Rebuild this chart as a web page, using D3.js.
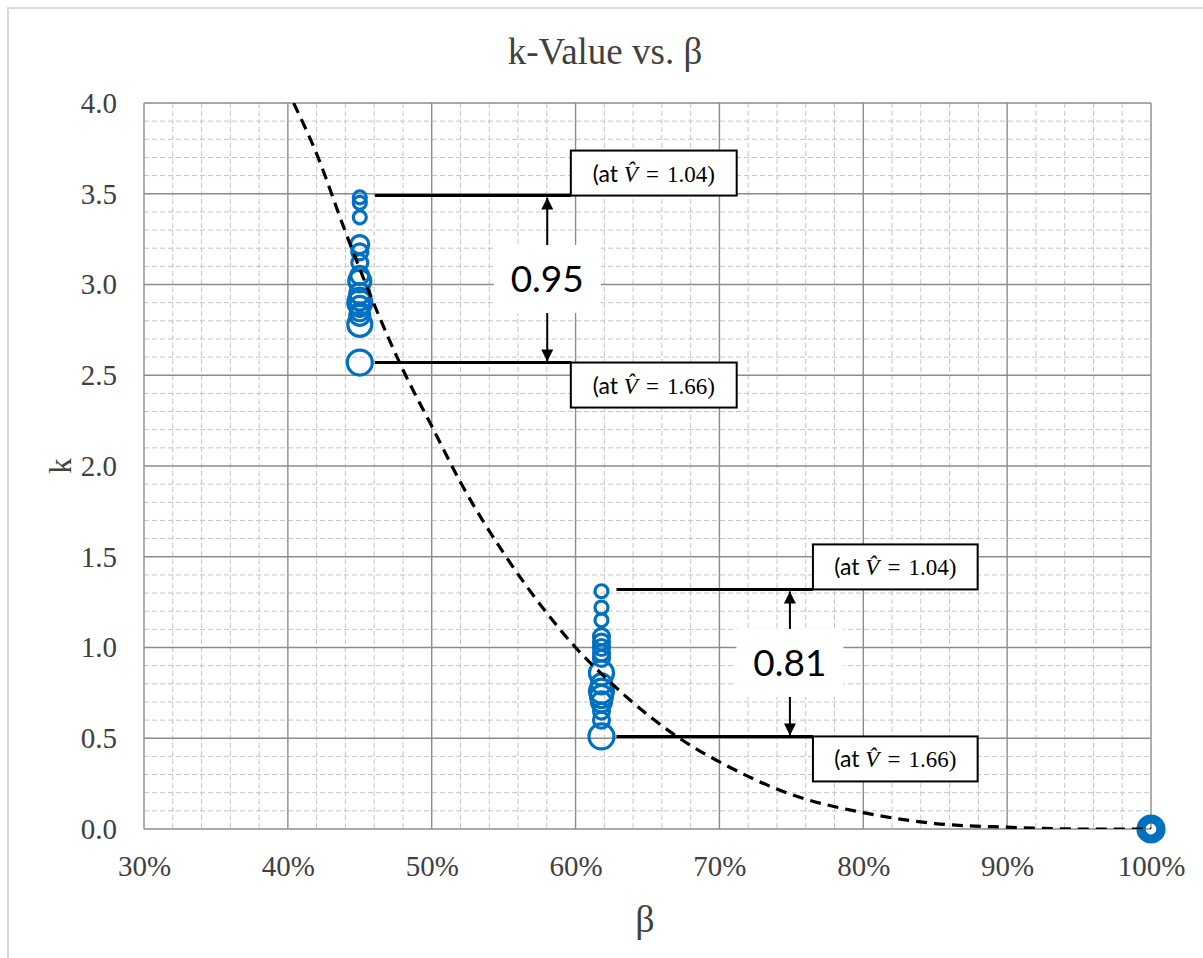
<!DOCTYPE html>
<html>
<head>
<meta charset="utf-8">
<script src="https://cdn.jsdelivr.net/npm/d3@7"></script>
<style>
  body { margin: 0; background: #fff; }
  svg { display: block; }
</style>
</head>
<body>
<div id="chart"></div>
<script>
// fitted curve (dashed)
var curveBeta = [40.4, 42, 44, 46, 48, 50, 52, 55, 58, 60, 62, 65, 68, 70, 75, 80, 85, 90, 95, 100];
var curveK = [4.0, 3.72, 3.29, 2.89, 2.53, 2.22, 1.91, 1.52, 1.19, 1.00, 0.84, 0.63, 0.46, 0.37, 0.19, 0.09, 0.03, 0.01, 0.0, 0.0];

// measured points, three beta groups
var groupBeta = [45, 61.8, 100];
var groupK = [
  [3.48, 3.45, 3.37, 3.22, 3.18, 3.12, 3.05, 3.02, 2.95, 2.92, 2.90, 2.88, 2.85, 2.83, 2.78, 2.57],
  [1.31, 1.22, 1.15, 1.06, 1.03, 1.00, 0.97, 0.94, 0.86, 0.80, 0.76, 0.73, 0.70, 0.65, 0.60, 0.51],
  [0, 0, 0, 0]
];
var groupSize = [
  [6.5, 6.5, 6.5, 9, 8, 8, 9, 11, 10, 11, 12, 10, 9, 10, 12, 12.5],
  [6.5, 6.5, 6.5, 8, 8, 8, 8, 8, 12, 10, 12, 11, 10, 8, 8, 12.5],
  [13, 11, 9, 7]
];

// spread annotations
var spreadLabels = ["0.95", "0.81"];
var spreadTop = [3.49, 1.32];
var spreadBottom = [2.57, 0.51];
var noteTop = "1.04", noteBottom = "1.66";

var xTicks = [30, 40, 50, 60, 70, 80, 90, 100];
var yTicks = [0, 0.5, 1.0, 1.5, 2.0, 2.5, 3.0, 3.5, 4.0];

var W = 1203, H = 958;
var pLeft = 144, pTop = 103, pRight = 1151, pBottom = 829;
var serif = "'Liberation Serif', 'Times New Roman', serif";
var sans = "Lato, 'Open Sans', sans-serif";
var blue = "#0070C0";

var x = d3.scaleLinear().domain([30, 100]).range([pLeft, pRight]);
var y = d3.scaleLinear().domain([0, 4]).range([pBottom, pTop]);

var svg = d3.select("#chart").append("svg")
  .attr("width", W)
  .attr("height", H);

svg.append("rect")
  .attr("x", 8).attr("y", 8)
  .attr("width", W).attr("height", H)
  .attr("fill", "#fff")
  .attr("stroke", "#d9d9d9")
  .attr("stroke-width", 2);

// minor grid
var minorX = d3.range(30, 100.01, 2).filter(function(v) { return v % 10 !== 0; });
var minorY = d3.range(0, 40.01, 1).filter(function(v) { return v % 5 !== 0; }).map(function(v) { return v / 10; });

var grid = svg.append("g");
grid.selectAll(".mx").data(minorX).enter().append("line")
  .attr("x1", function(d) { return x(d); }).attr("x2", function(d) { return x(d); })
  .attr("y1", pTop).attr("y2", pBottom)
  .attr("stroke", "#c4c4c4").attr("stroke-dasharray", "5,3");
grid.selectAll(".my").data(minorY).enter().append("line")
  .attr("y1", function(d) { return y(d); }).attr("y2", function(d) { return y(d); })
  .attr("x1", pLeft).attr("x2", pRight)
  .attr("stroke", "#c4c4c4").attr("stroke-dasharray", "5,3");

// major grid
grid.selectAll(".Mx").data(xTicks).enter().append("line")
  .attr("x1", function(d) { return x(d); }).attr("x2", function(d) { return x(d); })
  .attr("y1", pTop).attr("y2", pBottom)
  .attr("stroke", "#8c8c8c").attr("stroke-width", 1.4);
grid.selectAll(".My").data(yTicks).enter().append("line")
  .attr("y1", function(d) { return y(d); }).attr("y2", function(d) { return y(d); })
  .attr("x1", pLeft).attr("x2", pRight)
  .attr("stroke", "#8c8c8c").attr("stroke-width", 1.4);

// axes (labels only)
var yAxis = svg.append("g")
  .attr("transform", "translate(" + pLeft + ",0)")
  .call(d3.axisLeft(y).tickValues(yTicks).tickSize(0).tickPadding(27).tickFormat(d3.format(".1f")));
var xAxis = svg.append("g")
  .attr("transform", "translate(0," + pBottom + ")")
  .call(d3.axisBottom(x).tickValues(xTicks).tickSize(0).tickPadding(26).tickFormat(function(d) { return d + "%"; }));
[xAxis, yAxis].forEach(function(a) {
  a.select(".domain").remove();
  a.selectAll("text").attr("font-family", serif).attr("font-size", 29).attr("fill", "#404040");
});

// titles
svg.append("text")
  .attr("x", 605).attr("y", 64)
  .attr("text-anchor", "middle")
  .attr("font-family", serif).attr("font-size", 37).attr("fill", "#404040")
  .text("k-Value vs. β");
svg.append("text")
  .attr("x", 645).attr("y", 932)
  .attr("text-anchor", "middle")
  .attr("font-family", serif).attr("font-size", 38).attr("fill", "#404040")
  .text("β");
svg.append("text")
  .attr("transform", "translate(71,466) rotate(-90)")
  .attr("text-anchor", "middle")
  .attr("font-family", serif).attr("font-size", 31).attr("fill", "#404040")
  .text("k");

// annotation layout: arrow beta, box left/right beta for each group
var annArrow = [58.03, 74.9];
var annBoxL = [59.67, 76.5];
var annBoxR = [71.2, 87.95];
var annLabelW = 107;

var ann = svg.append("g");
spreadLabels.forEach(function(lbl, i) {
  var ax = x(annArrow[i]);
  var yt = y(spreadTop[i]), yb = y(spreadBottom[i]);
  var mid = (yt + yb) / 2;
  ann.append("rect")
    .attr("x", ax - annLabelW / 2).attr("y", mid - 34)
    .attr("width", annLabelW).attr("height", 68)
    .attr("fill", "#fff");
});

// points
var pts = [];
groupK.forEach(function(ks, g) {
  ks.forEach(function(k, j) { pts.push({ b: groupBeta[g], k: k, r: groupSize[g][j] }); });
});
svg.append("g").selectAll("circle").data(pts).enter().append("circle")
  .attr("cx", function(d) { return x(d.b); })
  .attr("cy", function(d) { return y(d.k); })
  .attr("r", function(d) { return d.r; })
  .attr("fill", "none")
  .attr("stroke", blue)
  .attr("stroke-width", 3.2);

// dashed curve
svg.append("clipPath").attr("id", "clip").append("rect")
  .attr("x", pLeft).attr("y", pTop).attr("width", pRight - pLeft).attr("height", pBottom - pTop);
var line = d3.line()
  .curve(d3.curveMonotoneX)
  .x(function(d, i) { return x(curveBeta[i]); })
  .y(function(d) { return y(d); });
svg.append("path")
  .attr("clip-path", "url(#clip)")
  .attr("d", line(curveK))
  .attr("fill", "none")
  .attr("stroke", "#000")
  .attr("stroke-width", 3.2)
  .attr("stroke-dasharray", "11,7");

// arrowheads
var defs = svg.append("defs");
defs.append("marker")
  .attr("id", "arrow")
  .attr("viewBox", "0 0 10 10")
  .attr("refX", 10).attr("refY", 5)
  .attr("markerWidth", 6.5).attr("markerHeight", 6)
  .attr("markerUnits", "strokeWidth")
  .attr("orient", "auto")
  .append("path").attr("d", "M0,0 L10,5 L0,10 Z").attr("fill", "#000");

function note(g, bx1, bx2, yTopBox, val) {
  g.append("rect")
    .attr("x", bx1).attr("y", yTopBox)
    .attr("width", bx2 - bx1).attr("height", 45)
    .attr("fill", "#fff").attr("stroke", "#000").attr("stroke-width", 2);
  var t = g.append("text")
    .attr("x", (bx1 + bx2) / 2).attr("y", yTopBox + 31)
    .attr("text-anchor", "middle")
    .attr("font-size", 23).attr("fill", "#000");
  t.append("tspan").attr("font-family", sans).text("(at ");
  t.append("tspan").attr("font-family", serif).attr("font-style", "italic").text("V\u0302");
  t.append("tspan").attr("font-family", serif).attr("dx", 8).text("=");
  t.append("tspan").attr("font-family", serif).attr("dx", 8).text(val + ")");
}

spreadLabels.forEach(function(lbl, i) {
  var gx = x(groupBeta[i]);
  var ax = x(annArrow[i]);
  var bx1 = x(annBoxL[i]), bx2 = x(annBoxR[i]);
  var yt = y(spreadTop[i]), yb = y(spreadBottom[i]);
  var mid = (yt + yb) / 2;

  ann.append("line")
    .attr("x1", gx + 15).attr("x2", bx1)
    .attr("y1", yt).attr("y2", yt)
    .attr("stroke", "#000").attr("stroke-width", 3);
  ann.append("line")
    .attr("x1", gx + 15).attr("x2", bx1)
    .attr("y1", yb).attr("y2", yb)
    .attr("stroke", "#000").attr("stroke-width", 3);

  ann.append("line")
    .attr("x1", ax).attr("x2", ax)
    .attr("y1", mid - 34).attr("y2", yt + 2)
    .attr("stroke", "#000").attr("stroke-width", 2)
    .attr("marker-end", "url(#arrow)");
  ann.append("line")
    .attr("x1", ax).attr("x2", ax)
    .attr("y1", mid + 34).attr("y2", yb - 1)
    .attr("stroke", "#000").attr("stroke-width", 2)
    .attr("marker-end", "url(#arrow)");

  ann.append("text")
    .attr("x", ax).attr("y", mid + 13)
    .attr("text-anchor", "middle")
    .attr("font-family", sans).attr("font-size", 37).attr("fill", "#000")
    .text(lbl);

  note(ann, bx1, bx2, yt - 45, noteTop);
  note(ann, bx1, bx2, yb, noteBottom);
});
</script>
</body>
</html>
